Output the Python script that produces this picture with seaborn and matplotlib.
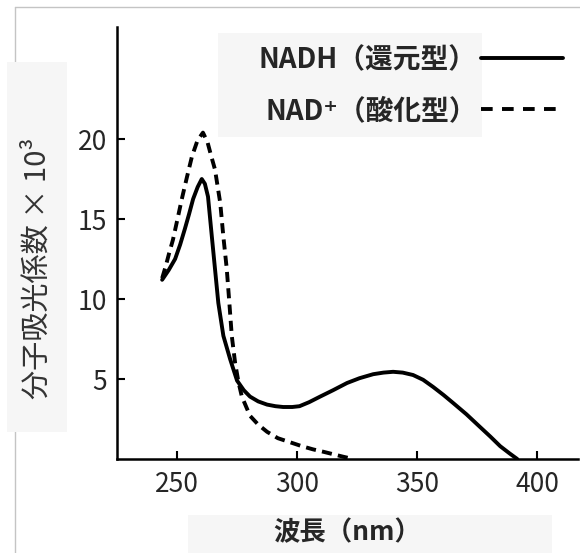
"""
Absorption spectra of NADH (reduced) and NAD+ (oxidized), redrawn from a scanned figure.
"""
import numpy as np
import pandas as pd
import seaborn as sns
import matplotlib.pyplot as plt
from matplotlib.patches import Rectangle
from matplotlib.lines import Line2D

# Values (wavelength in nm, molar absorptivity x 10^3)
nadh_wl = [243.8, 246.5, 249.2, 251.3, 253.3, 255.0, 256.7, 258.6, 260.3, 261.6, 262.9,
           264.5, 265.8, 267.2, 269.3, 272.1, 275.0, 277.8,
           280.4, 283.8, 287.5, 291.0, 294.2, 298.0, 301.0, 305.0, 309.6, 315.0, 320.8,
           326.0, 331.7, 336.0, 340.0, 344.0, 348.3, 352.5, 356.7, 361.0, 365.0, 370.5,
           376.2, 380.5, 384.6, 388.5, 391.7]
nadh_abs = [11.2, 11.8, 12.5, 13.4, 14.4, 15.3, 16.25, 17.0, 17.5, 17.2, 16.4,
            13.9, 11.9, 9.75, 7.7, 6.25, 4.9, 4.3,
            3.9, 3.6, 3.4, 3.3, 3.25, 3.25, 3.3, 3.55, 3.9, 4.3, 4.75,
            5.05, 5.3, 5.4, 5.45, 5.4, 5.25, 4.95, 4.5, 4.0, 3.5, 2.8,
            2.0, 1.4, 0.8, 0.35, 0.0]

nad_wl = [243.8, 245.2, 246.6, 248.3, 250.2, 252.0, 254.1, 256.2, 258.5, 260.8, 262.7, 264.3,
          265.8, 268.0, 269.3, 270.7, 271.8, 272.8, 274.2, 275.6, 277.0, 280.4, 283.8, 287.5,
          292.0, 297.0, 302.0, 306.7, 311.0, 315.0, 319.0, 323.3]
nad_abs = [11.3, 12.0, 12.8, 13.7, 15.0, 16.25, 17.6, 18.9, 19.9, 20.4, 19.8, 18.9,
           18.1, 16.0, 13.9, 11.9, 9.75, 7.7, 6.0, 4.8, 3.9, 2.7, 2.15, 1.7,
           1.3, 1.05, 0.8, 0.6, 0.45, 0.3, 0.15, 0.0]

labels = ['NADH（還元型）', 'NAD⁺（酸化型）']
x_ticks = [250, 300, 350, 400]
y_ticks = [5, 10, 15, 20]

if __name__ == "__main__":
    sns.set_style('ticks')
    plt.rcParams['font.family'] = ['Noto Sans CJK JP', 'DejaVu Sans']

    df = pd.concat([
        pd.DataFrame({'wl': nadh_wl, 'abs': nadh_abs, 'form': labels[0]}),
        pd.DataFrame({'wl': nad_wl, 'abs': nad_abs, 'form': labels[1]}),
    ])

    fig = plt.figure(figsize=(5.8, 5.53), dpi=100)
    W, H = 580, 553

    # light grey boxes and frame of the scan (pixel coords -> figure coords)
    def box(x0, y0, x1, y1):
        fig.patches.append(Rectangle((x0 / W, 1 - y1 / H), (x1 - x0) / W, (y1 - y0) / H,
                                     transform=fig.transFigure, facecolor='#f6f6f6',
                                     edgecolor='none', zorder=-2))
    fig.lines.append(Line2D([15 / W, 1], [1 - 7 / H, 1 - 7 / H], transform=fig.transFigure,
                            color='#c4c4c4', lw=1, zorder=-3))
    fig.lines.append(Line2D([15 / W, 15 / W], [0, 1 - 7 / H], transform=fig.transFigure,
                            color='#c4c4c4', lw=1, zorder=-3))
    box(7, 62, 67, 432)
    box(218, 33, 482, 137)
    box(188, 515, 552, 553)

    ax = fig.add_axes([117 / W, 1 - 459 / H, (578 - 117) / W, (459 - 27) / H])
    ax.set_zorder(1)
    ax.patch.set_alpha(0)
    sns.lineplot(data=df, x='wl', y='abs', style='form', sort=False, estimator=None,
                 color='black', lw=2.8, dashes=[(None, None), (2.6, 1.6)], ax=ax)

    ax.set_xlim(225, 417)
    ax.set_ylim(0, 27)
    ax.set_xticks(x_ticks)
    ax.set_yticks(y_ticks)
    ax.tick_params(direction='in', length=6, width=1.5, labelsize=19, pad=7, color='black')
    ax.tick_params(axis='x', pad=9)
    sns.despine(ax=ax)
    for s in ['left', 'bottom']:
        ax.spines[s].set_linewidth(1.8)
        ax.spines[s].set_color('black')
    ax.set_xlabel('')
    ax.set_ylabel('')

    # legend: text first, line on the right
    handles = [Line2D([], [], color='black', lw=2.8),
               Line2D([], [], color='black', lw=2.8, dashes=(3.0, 2.4))]
    ax.legend(handles, labels, loc='upper right', bbox_to_anchor=(563 / W, 1 - 46 / H),
              bbox_transform=fig.transFigure, frameon=False, markerfirst=False,
              handlelength=2.95, handletextpad=0.15, labelspacing=0.82, borderpad=0,
              borderaxespad=0, prop={'size': 20, 'weight': 'bold'})

    fig.text(38 / W, 1 - 268 / H, '分子吸光係数 × 10³', rotation=90, ha='center', va='center',
             fontsize=21, color='#333333')
    fig.text(347 / W, 1 - 533 / H, '波長（nm）', ha='center', va='center', fontsize=19,
             weight='bold')

    plt.savefig('out.png', dpi=100)
